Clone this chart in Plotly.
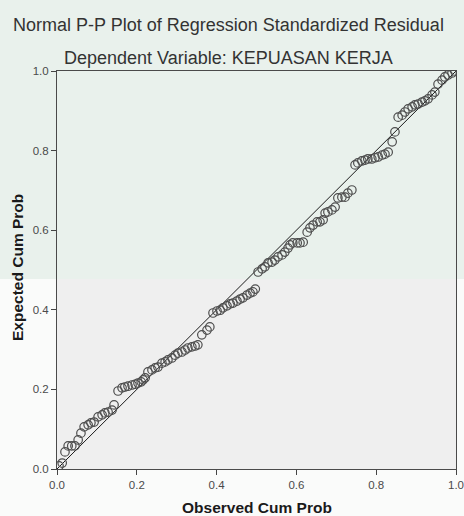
import plotly.graph_objects as go

observed = [0.005, 0.013, 0.020, 0.028, 0.037, 0.045, 0.053, 0.060, 0.068, 0.078, 0.085, 0.093,
            0.103, 0.113, 0.120, 0.128, 0.138, 0.143, 0.153, 0.163, 0.170, 0.178, 0.188,
            0.196, 0.203, 0.211, 0.216, 0.221,
            0.228, 0.238, 0.246, 0.253, 0.263, 0.271, 0.278, 0.288, 0.296, 0.303, 0.313, 0.321,
            0.328, 0.338, 0.346, 0.353, 0.363, 0.376, 0.383,
            0.391, 0.401, 0.409, 0.416, 0.426, 0.434, 0.441, 0.451, 0.459, 0.466, 0.476, 0.484,
            0.491, 0.497,
            0.504, 0.514, 0.521, 0.529, 0.539, 0.546, 0.554, 0.564, 0.571, 0.579,
            0.584, 0.591, 0.602, 0.609, 0.617,
            0.627, 0.634, 0.642, 0.652, 0.659, 0.667,
            0.672, 0.679, 0.689, 0.697,
            0.704, 0.714, 0.722, 0.729, 0.739,
            0.747, 0.754, 0.764, 0.772, 0.779, 0.789, 0.797, 0.805, 0.815, 0.822, 0.830, 0.840,
            0.847,
            0.855, 0.865, 0.872, 0.880, 0.890, 0.897, 0.905, 0.915, 0.922, 0.930, 0.940, 0.947,
            0.955, 0.965, 0.972, 0.980, 0.990, 0.997]

expected = [0.008, 0.015, 0.043, 0.058, 0.058, 0.058, 0.073, 0.090, 0.106, 0.111, 0.116, 0.118,
            0.131, 0.136, 0.141, 0.143, 0.148, 0.161, 0.196, 0.204, 0.206, 0.208, 0.211,
            0.213, 0.216, 0.219, 0.224, 0.229,
            0.244, 0.249, 0.254, 0.256, 0.266, 0.269, 0.274, 0.279, 0.286, 0.291, 0.294, 0.299,
            0.304, 0.307, 0.309, 0.312, 0.337, 0.349, 0.357,
            0.392, 0.397, 0.399, 0.405, 0.410, 0.415, 0.417, 0.422, 0.427, 0.430, 0.437, 0.442,
            0.445, 0.452,
            0.495, 0.503, 0.508, 0.518, 0.520, 0.525, 0.533, 0.538, 0.545, 0.555,
            0.563, 0.568, 0.568, 0.568, 0.570,
            0.595, 0.606, 0.613, 0.621, 0.621, 0.626,
            0.643, 0.646, 0.651, 0.658,
            0.681, 0.683, 0.683, 0.693, 0.701,
            0.764, 0.769, 0.774, 0.776, 0.779, 0.779, 0.782, 0.784, 0.789, 0.791, 0.796, 0.822,
            0.847,
            0.884, 0.889, 0.897, 0.905, 0.910, 0.915, 0.917, 0.922, 0.925, 0.930, 0.940, 0.947,
            0.967, 0.977, 0.985, 0.990, 0.995, 1.000]

ref_line = [0.0, 1.0]
tick_vals = [0.0, 0.2, 0.4, 0.6, 0.8, 1.0]
tick_text = ["0.0", "0.2", "0.4", "0.6", "0.8", "1.0"]

FONT = "Liberation Sans, Arial, sans-serif"
W, H = 464, 516
L, R, T, B = 57, 8, 71, 47
PW, PH = W - L - R, H - T - B


def px_x(px):
    return (px - L) / PW


def px_y(py):
    return (H - B - py) / PH


fig = go.Figure()
fig.add_trace(go.Scatter(x=ref_line, y=ref_line, mode="lines",
                         line=dict(color="#1a1a1a", width=1), hoverinfo="skip",
                         showlegend=False))
fig.add_trace(go.Scatter(x=observed, y=expected, mode="markers",
                         marker=dict(symbol="circle-open", size=8.5,
                                     line=dict(color="#4d4d4d", width=1.2),
                                     color="#4d4d4d"),
                         showlegend=False))

axis_common = dict(range=[0, 1], tickvals=tick_vals, ticktext=tick_text, automargin=False,
                   showgrid=False, zeroline=False, showline=True, linecolor="#4a4a4a",
                   linewidth=1, mirror=True, ticks="outside", ticklen=5,
                   tickcolor="#444444",
                   tickfont=dict(family=FONT, size=11.5, color="#4a4a4a"))

fig.update_layout(
    width=W, height=H,
    margin=dict(l=L, r=R, t=T, b=B),
    paper_bgcolor="#fafbfa",
    plot_bgcolor="#efefef",
    xaxis=dict(**axis_common),
    yaxis=dict(**axis_common),
    shapes=[dict(type="rect", xref="paper", yref="paper", layer="below",
                 x0=px_x(0), x1=px_x(W), y0=px_y(279), y1=px_y(0),
                 fillcolor="#e9f1ec", line=dict(width=0))],
    annotations=[
        dict(text="Normal P-P Plot of Regression Standardized Residual", xref="paper",
             yref="paper", x=px_x(228), y=px_y(25), showarrow=False,
             xanchor="center", yanchor="middle",
             font=dict(family=FONT, size=18, color="#333333")),
        dict(text="Dependent Variable: KEPUASAN KERJA", xref="paper",
             yref="paper", x=px_x(228), y=px_y(58), showarrow=False,
             xanchor="center", yanchor="middle",
             font=dict(family=FONT, size=18, color="#333333")),
        dict(text="<b>Observed Cum Prob</b>", xref="paper", yref="paper",
             x=px_x(257), y=px_y(507), showarrow=False, xanchor="center", yanchor="middle",
             font=dict(family=FONT, size=15.5, color="#1a1a1a")),
        dict(text="<b>Expected Cum Prob</b>", xref="paper", yref="paper",
             x=px_x(17), y=px_y(268), showarrow=False, xanchor="center", yanchor="middle",
             textangle=-90,
             font=dict(family=FONT, size=15.5, color="#1a1a1a")),
    ],
)

fig.write_html("out.html",
               config={"displayModeBar": False},
               post_script="document.body.style.margin='0';"
                           "document.body.style.overflow='hidden';")
